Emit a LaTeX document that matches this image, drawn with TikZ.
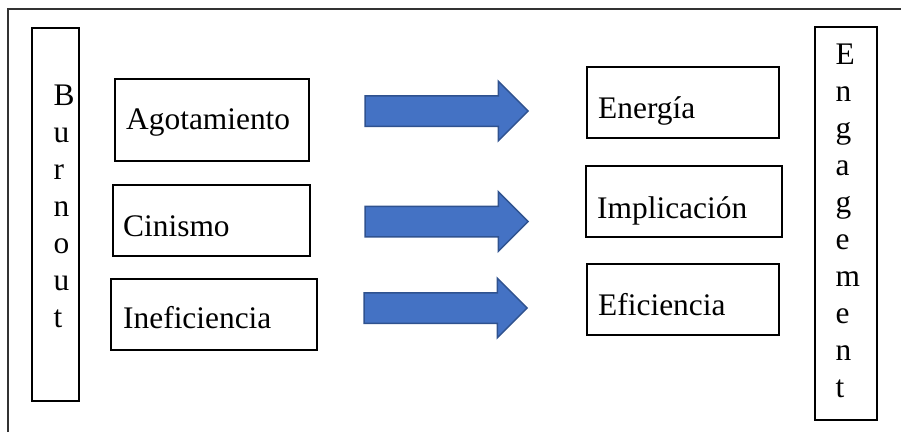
\documentclass[tikz,border=0pt]{standalone}
\usepackage{fontspec}
\setmainfont{Liberation Serif}
\usetikzlibrary{shapes.arrows}
\definecolor{arrowblue}{HTML}{4472C4}
\definecolor{arrowedge}{HTML}{2F528F}
\begin{document}
\begin{tikzpicture}[x=1pt, y=-1pt]
  \tikzstyle{box}=[draw, line width=1.2pt, rectangle, inner sep=0pt]
  \tikzstyle{word}=[inner sep=0pt, font=\fontsize{31.4}{37}\selectfont]
  \tikzstyle{bigarrow}=[single arrow, draw=arrowedge, fill=arrowblue, line width=1.5pt,
    inner sep=0pt, inner ysep=14.5pt, minimum height=163pt, single arrow head extend=14.5pt]

\useasboundingbox (0, 0) rectangle (901, 432);
\draw[line width=1.5pt, black!80] (8, 432) -- (8, 9) -- (901, 9);

\node[box, minimum width=47pt, minimum height=373pt] (burnout) at (55.5, 214.5) {};
\node[word, anchor=base west, align=left] (lburnout) at (53.5, 327) {B\\u\\r\\n\\o\\u\\t};

\node[box, minimum width=194pt, minimum height=82pt] (agot) at (212, 120) {};
\node[word, anchor=base west] (lagot) at (126, 129) {Agotamiento};

\node[box, minimum width=197pt, minimum height=71pt] (cin) at (211.5, 220.5) {};
\node[word, anchor=base west] (lcin) at (123, 236) {Cinismo};

\node[box, minimum width=206pt, minimum height=71pt] (inef) at (214, 314.5) {};
\node[word, anchor=base west] (linef) at (123, 328) {Ineficiencia};

\node[bigarrow] (a1) at (439, 111) {};
\node[bigarrow] (a2) at (439, 221.5) {};
\node[bigarrow] (a3) at (438, 308) {};

\node[box, minimum width=192pt, minimum height=71pt] (ener) at (683, 102.5) {};
\node[word, anchor=base west] (lener) at (598, 118) {Energía};

\node[box, minimum width=196pt, minimum height=71pt] (impl) at (684, 201.5) {};
\node[word, anchor=base west] (limpl) at (597, 218) {Implicación};

\node[box, minimum width=192pt, minimum height=71pt] (efic) at (683, 299.5) {};
\node[word, anchor=base west] (lefic) at (598, 315) {Eficiencia};

\node[box, minimum width=62pt, minimum height=393pt] (engag) at (846, 223.5) {};
\node[word, anchor=base west, align=left] (lengag) at (835.3, 397) {E\\n\\g\\a\\g\\e\\m\\e\\n\\t};

\end{tikzpicture}
\end{document}
